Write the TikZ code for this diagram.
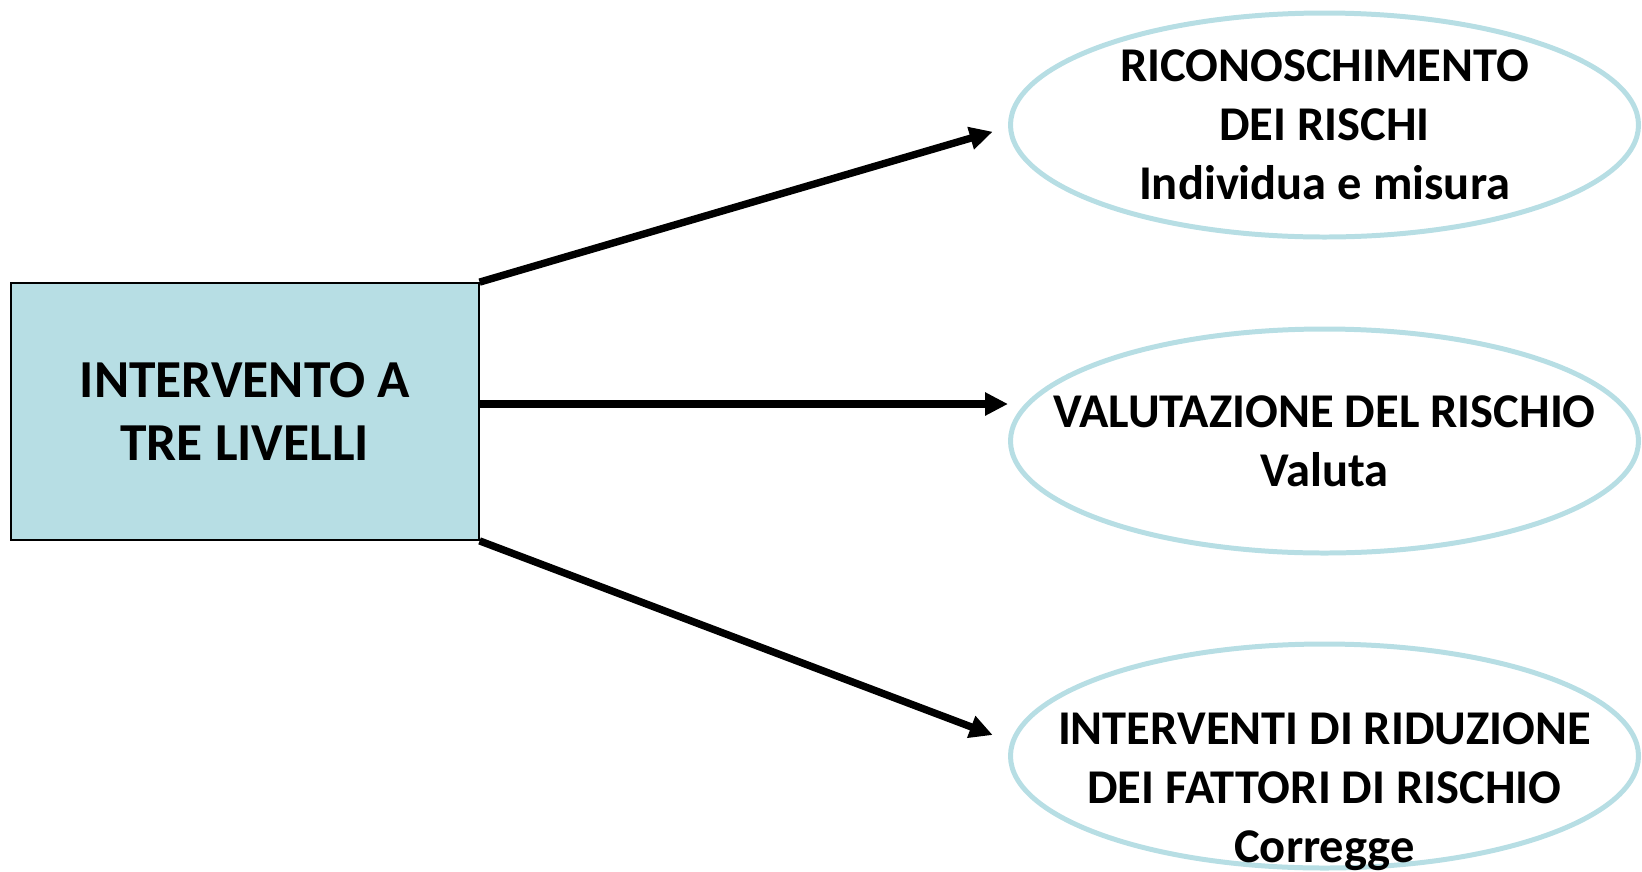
\documentclass[tikz,border=0pt]{standalone}
\usepackage{fontspec}
\setmainfont{Carlito}
\usepackage{tikz}
\usetikzlibrary{shapes,arrows.meta,positioning,calc}
\usepackage{xcolor}
\definecolor{livelloblue}{RGB}{183,222,228}
\tikzset{
    livello/.style={rectangle, draw=black, fill=livelloblue, line width=0.5pt, minimum width=4.68cm, minimum height=2.57cm, align=center, font=\fontsize{15.2}{17.9}\selectfont\bfseries},
    fase/.style={ellipse, draw=livelloblue, line width=1.42pt, minimum width=6.28cm, minimum height=2.24cm, inner sep=0pt},
    fasetesto/.style={align=center, inner sep=0pt, font=\fontsize{13.8}{16.8}\selectfont\bfseries},
    freccia/.style={line width=2.1pt, black, -{Triangle[length=0.23cm, width=0.22cm]}},
}

\begin{document}
\begin{tikzpicture}[scale=1]
    \useasboundingbox (0,0) rectangle (16.42,-8.71);

    % riquadro
    \node[livello] (liv) at (2.447,-4.115) {INTERVENTO A\\TRE LIVELLI};

    % riconoscimento
    \node[fase] (ric) at (13.245,-1.25) {};
    \node[fasetesto] (rictesto) at (ric.center) {RICONOSCHIMENTO\\DEI RISCHI\\Individua e misura};

    % valutazione
    \node[fase] (val) at (13.245,-4.41) {};
    \node[fasetesto] (valtesto) at (val.center) {VALUTAZIONE DEL RISCHIO\\Valuta};

    % riduzione
    \node[fase] (rid) at (13.245,-7.56) {};
    \node[fasetesto] (ridtesto) at ([yshift=-0.36cm]rid.center) {INTERVENTI DI RIDUZIONE\\DEI FATTORI DI RISCHIO\\Corregge};

    % frecce
    \coordinate (pric) at (9.927,-1.317);
    \coordinate (prid) at (9.927,-7.35);
    \draw[freccia] (liv.north east) -- (pric);
    \draw[freccia] ([yshift=0.075cm]liv.east) -- ([yshift=0.075cm]liv.east -| val.west);
    \draw[freccia] (liv.south east) -- (prid);
\end{tikzpicture}
\end{document}
